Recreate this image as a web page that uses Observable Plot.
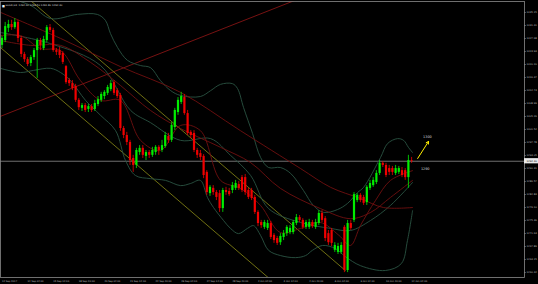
<!DOCTYPE html>
<html><head><meta charset="utf-8">
<script src="https://cdn.jsdelivr.net/npm/d3@7"></script>
<script src="https://cdn.jsdelivr.net/npm/@observablehq/plot@0.6"></script>
<style>
html,body{margin:0;padding:0;background:#000;}
#chart{width:538px;height:284px;}
svg{display:block;}
</style></head><body><div id="chart"></div>
<script>
// ---- OHLC (GOLD, H4) ----
const open=[1325.7,1327.1,1330.6,1331.7,1330.8,1332.3,1327.7,1323.1,1321.6,1320.5,
1322.2,1324.2,1327.1,1324.8,1327.1,1330.8,1330.0,1324.2,1324.2,1323.4,
1319.6,1315.6,1314.7,1313.9,1309.9,1307.6,1308.4,1307.3,1308.1,1307.3,
1308.7,1309.9,1311.0,1311.9,1313.0,1315.0,1312.7,1311.3,1301.8,1299.8,
1297.8,1293.2,1291.2,1294.9,1296.1,1293.8,1294.9,1294.1,1294.9,1296.4,
1295.5,1296.6,1299.5,1298.4,1302.1,1306.4,1309.3,1310.7,1306.1,1300.7,
1300.4,1295.5,1294.6,1293.8,1289.2,1283.1,1284.6,1283.4,1283.1,1278.8,
1284.0,1283.7,1284.0,1284.6,1285.7,1287.7,1287.7,1284.0,1284.0,1282.0,
1277.7,1274.8,1273.4,1273.1,1274.5,1271.1,1270.2,1269.0,1270.5,1271.6,
1271.9,1271.9,1274.5,1276.2,1275.4,1273.4,1273.4,1274.8,1273.4,1274.5,
1277.4,1275.9,1271.6,1272.5,1266.8,1266.2,1266.2,1273.4,1261.0,1274.5,
1275.4,1281.1,1282.6,1282.0,1280.5,1284.6,1285.4,1286.3,1288.9,1291.8,
1291.2,1290.3,1290.3,1288.9,1289.2,1289.7,1289.7,1287.7,1292.6];
const high=[1328.3,1332.3,1332.9,1332.9,1333.4,1332.9,1328.3,1323.7,1322.2,1322.8,
1324.8,1327.7,1327.7,1328.3,1331.4,1331.7,1330.6,1324.8,1325.1,1323.9,
1319.9,1316.2,1315.6,1314.5,1310.4,1309.0,1309.0,1308.7,1308.7,1309.9,
1311.0,1312.2,1312.7,1314.2,1315.6,1315.6,1313.3,1311.9,1302.4,1300.7,
1298.4,1294.1,1296.1,1296.9,1296.9,1295.5,1295.5,1296.4,1296.9,1296.9,
1298.4,1300.7,1300.4,1303.5,1307.6,1310.7,1312.2,1311.6,1307.0,1301.2,
1301.2,1296.1,1295.5,1294.3,1289.7,1285.4,1285.4,1284.0,1284.0,1284.6,
1284.9,1284.6,1286.3,1286.9,1286.6,1288.3,1288.6,1284.6,1284.6,1282.6,
1278.2,1275.4,1275.4,1275.4,1275.1,1271.6,1270.8,1271.6,1272.5,1273.9,
1273.9,1275.4,1277.1,1276.8,1275.9,1275.4,1275.7,1275.4,1275.7,1278.2,
1278.2,1276.5,1272.5,1273.1,1269.0,1268.8,1269.0,1273.9,1275.4,1275.4,
1283.4,1283.1,1283.1,1282.6,1285.4,1286.9,1287.7,1289.7,1292.6,1292.3,
1291.8,1291.2,1290.9,1291.2,1290.9,1290.6,1290.3,1294.1,1293.5];
const low=[1324.8,1326.5,1329.4,1330.0,1330.3,1326.5,1322.2,1320.8,1319.6,1319.6,
1321.4,1316.2,1324.2,1324.2,1326.5,1329.4,1323.7,1322.8,1321.9,1320.2,
1314.5,1313.9,1312.7,1309.3,1307.0,1306.7,1306.4,1306.4,1306.4,1306.7,
1308.1,1309.3,1310.1,1311.3,1312.4,1311.3,1310.4,1301.0,1298.9,1296.9,
1291.2,1289.2,1290.3,1294.1,1293.2,1292.6,1293.2,1293.5,1294.1,1294.1,
1294.9,1296.1,1297.5,1297.8,1301.2,1305.6,1308.7,1305.6,1299.8,1298.9,
1294.9,1293.2,1292.6,1287.4,1282.6,1282.3,1282.6,1281.1,1277.7,1277.7,
1282.6,1282.3,1283.1,1284.0,1284.0,1283.4,1282.6,1281.4,1281.1,1277.1,
1273.6,1273.1,1272.8,1272.5,1269.9,1268.8,1268.2,1268.2,1269.6,1270.8,
1271.3,1271.3,1273.9,1274.8,1272.8,1272.8,1272.8,1273.1,1272.8,1273.9,
1274.8,1269.3,1268.2,1267.9,1266.2,1265.6,1265.6,1260.4,1260.4,1272.5,
1274.8,1280.5,1280.5,1279.7,1279.7,1284.0,1284.9,1285.7,1288.3,1290.6,
1287.7,1288.3,1288.3,1288.3,1288.6,1287.7,1286.9,1284.6,1291.8];
const close=[1327.7,1331.1,1331.7,1330.8,1332.3,1327.7,1323.1,1321.6,1320.2,1322.2,
1324.2,1327.1,1325.7,1327.4,1330.8,1330.0,1324.2,1323.7,1322.8,1320.8,
1315.0,1314.7,1313.3,1309.9,1307.8,1308.4,1307.0,1308.1,1307.0,1309.0,
1310.1,1311.6,1312.2,1313.6,1314.7,1311.9,1311.0,1301.8,1299.8,1297.8,
1292.6,1291.2,1295.5,1296.1,1294.1,1294.9,1294.1,1295.5,1296.4,1295.5,
1296.9,1299.8,1298.4,1302.7,1307.0,1309.9,1311.0,1306.1,1300.4,1299.8,
1295.5,1294.1,1293.5,1288.3,1283.4,1284.9,1283.4,1282.0,1278.8,1284.0,
1283.4,1282.8,1285.4,1286.0,1284.6,1284.0,1283.4,1282.0,1281.7,1277.7,
1274.5,1273.9,1274.8,1274.5,1270.5,1269.6,1268.8,1270.8,1271.6,1273.4,
1273.1,1274.8,1276.2,1275.4,1273.4,1274.8,1274.8,1273.6,1274.8,1277.4,
1275.4,1270.2,1269.0,1268.8,1268.2,1267.9,1268.2,1261.0,1274.5,1273.1,
1282.8,1282.6,1281.1,1280.3,1284.9,1286.0,1286.9,1288.9,1291.8,1291.2,
1288.3,1289.2,1289.2,1290.3,1290.3,1288.3,1287.7,1292.6,1292.4];

// ---- indicator curves read at sample bars ----
const bbUpBar=[-0.5,8.9,15.2,23.6,29.8,32.3,33.9,36.1,39.2,43.3,46.4,49.5,52.7,55.8,62.0,65.2,68.3,72.0,73.6,75.5,78.3,80.8,83.3,87.0,90.2,94.2,97.3,100.5,104.8,108.0,111.1,113.0,118.3,120.5,123.6,125.5,127.0,128.3];
const bbUp=[1340.0,1337.2,1333.4,1334.6,1334.6,1332.9,1329.1,1325.1,1321.4,1319.9,1319.3,1315.6,1312.7,1311.3,1311.0,1312.7,1314.5,1314.7,1313.3,1307.8,1300.4,1293.5,1290.6,1290.6,1288.9,1284.0,1279.7,1277.7,1278.5,1280.3,1283.4,1284.9,1293.5,1297.5,1298.9,1298.4,1296.4,1294.9];
const bbLoBar=[-0.5,5.8,9.8,15.2,18.3,21.4,26.1,30.8,35.5,38.6,41.7,46.4,51.1,55.8,58.9,62.0,64.2,66.1,69.2,71.4,73.9,76.7,78.6,80.8,83.3,87.0,91.7,94.9,97.0,100.2,104.2,107.3,112.0,119.8,124.8,126.7,128.3];
const bbLo=[1319.1,1317.9,1318.5,1319.1,1317.9,1315.6,1309.9,1305.6,1301.2,1292.6,1288.3,1287.4,1286.9,1285.4,1286.0,1286.9,1282.0,1279.1,1275.4,1273.1,1271.6,1273.1,1273.9,1271.1,1266.8,1265.3,1264.7,1265.3,1266.8,1268.2,1267.3,1265.0,1262.4,1261.0,1263.0,1269.6,1278.2];
const bbMidBar=[-0.5,15.2,30.8,40.2,46.4,55.8,65.2,71.4,77.7,83.3,93.3,102.7,108.9,115.2,121.4,128.3];
const bbMid=[1329.4,1326.2,1319.9,1307.0,1303.5,1298.4,1298.9,1294.1,1288.3,1278.8,1274.8,1273.1,1272.5,1275.4,1279.7,1286.3];
const maSlowBar=[-0.5,18.3,37.0,55.8,74.5,93.3,102.7,112.0,119.2,128.3];
const maSlow=[1335.2,1327.7,1319.6,1312.2,1301.2,1290.3,1284.9,1281.7,1279.1,1279.1];
const maMidBar=[-0.5,8.9,18.3,27.7,37.0,46.4,55.8,68.3,77.7,87.0,99.5,108.9,115.2,121.4,128.3];
const maMid=[1327.1,1325.7,1325.7,1320.8,1314.2,1307.0,1301.8,1296.4,1292.0,1284.6,1278.8,1275.9,1277.7,1282.0,1286.9];
const maFastBar=[-0.5,5.8,12.0,18.3,24.5,30.8,37.0,43.3,49.5,55.8,62.0,68.3,74.5,80.8,87.0,93.3,99.5,105.3,108.9,112.0,116.7,121.4,128.3];
const maFast=[1328.5,1328.5,1324.8,1324.2,1315.6,1309.9,1309.9,1298.4,1295.5,1302.7,1301.2,1286.9,1284.6,1279.7,1271.9,1273.1,1274.8,1271.1,1268.2,1273.9,1281.1,1286.9,1289.7];

// ---- drawn trend lines (bar, price) ----
const trendUp=[[-0.5,1305.3],[100,1341.7]];
const chanUpper=[[8.9,1338.6],[107.3,1261.0]];
const chanLower=[[-0.5,1325.1],[83.9,1258.4]];

// ---- annotations ----
const arrowFrom=[129.9,1293.2], arrowTo=[133.3,1298.1];
const notes=[{bar:131.6,price:1299.3,text:"1300"},{bar:130.9,price:1290.3,text:"1290"}];

// ---- axes ----
const yTickLabels=["1335.15","1331.41","1327.68","1323.94","1320.20","1316.47","1312.73","1308.99","1305.26","1301.52","1297.78","1294.05","1290.31","1286.57","1282.84","1279.10","1275.36","1271.63","1267.89","1264.15","1260.42"];
const xTickLabels=["12 Sep 2017","14 Sep 04:00","15 Sep 12:00","18 Sep 20:00","20 Sep 04:00","21 Sep 12:00","22 Sep 20:00","26 Sep 04:00","27 Sep 12:00","28 Sep 20:00","2 Oct 04:00","3 Oct 12:00","4 Oct 20:00","6 Oct 04:00","9 Oct 12:00","10 Oct 20:00","12 Oct 04:00"];
const title="GOLD,H4  1292.60 1293.50 1291.80 1292.40";

const X0=-0.469, X1=163.28, Y0=1258.99, Y1=1338.31;
const bars=close.map((c,i)=>({i,o:open[i],h:high[i],l:low[i],c,up:c>=open[i]}));
const up=bars.filter(d=>d.up), dn=bars.filter(d=>!d.up);
const pts=(bs,vs)=>bs.map((b,k)=>({b,v:vs[k]}));
const seg=a=>a.map(([b,v])=>({b,v}));
const last=close[close.length-1];
const xt=xTickLabels.map((t,k)=>({b:k*8,t}));
const yt=yTickLabels.map(t=>({v:+t,t}));
const GREEN="#00ee00", RED="#f00000", BB="#2a5443", MA="#701010", CHAN="#7c7c14";

const chart=Plot.plot({
  width:538,height:284,marginTop:1,marginRight:14,marginBottom:7,marginLeft:0,
  style:{background:"#000",color:"#ccc",fontFamily:"DejaVu Sans"},
  x:{type:"linear",domain:[X0,X1],axis:null},
  y:{type:"linear",domain:[Y0,Y1],axis:null},
  marks:[
    Plot.ruleY([last],{stroke:"#8a8a8a",strokeWidth:0.8}),
    Plot.line(seg(trendUp),{x:"b",y:"v",stroke:"#851414",strokeWidth:0.9,clip:true}),
    Plot.line(seg(chanUpper),{x:"b",y:"v",stroke:CHAN,strokeWidth:0.9,clip:true}),
    Plot.line(seg(chanLower),{x:"b",y:"v",stroke:CHAN,strokeWidth:0.9,clip:true}),
    Plot.line(pts(bbUpBar,bbUp),{x:"b",y:"v",stroke:BB,strokeWidth:0.9,curve:"catmull-rom",clip:true}),
    Plot.line(pts(bbLoBar,bbLo),{x:"b",y:"v",stroke:BB,strokeWidth:0.9,curve:"catmull-rom",clip:true}),
    Plot.line(pts(bbMidBar,bbMid),{x:"b",y:"v",stroke:BB,strokeWidth:0.9,curve:"catmull-rom",clip:true}),
    Plot.line(pts(maSlowBar,maSlow),{x:"b",y:"v",stroke:MA,strokeWidth:0.9,curve:"catmull-rom",clip:true}),
    Plot.line(pts(maMidBar,maMid),{x:"b",y:"v",stroke:MA,strokeWidth:0.9,curve:"catmull-rom",clip:true}),
    Plot.line(pts(maFastBar,maFast),{x:"b",y:"v",stroke:MA,strokeWidth:0.9,curve:"catmull-rom",clip:true}),
    Plot.ruleX(up,{x:"i",y1:"l",y2:"h",stroke:GREEN,strokeWidth:0.8}),
    Plot.ruleX(dn,{x:"i",y1:"l",y2:"h",stroke:RED,strokeWidth:0.8}),
    Plot.ruleX(up,{x:"i",y1:"o",y2:"c",stroke:GREEN,strokeWidth:2.2}),
    Plot.ruleX(dn,{x:"i",y1:"o",y2:"c",stroke:RED,strokeWidth:2.2}),
    Plot.arrow([{x1:arrowFrom[0],y1:arrowFrom[1],x2:arrowTo[0],y2:arrowTo[1]}],{x1:"x1",y1:"y1",x2:"x2",y2:"y2",stroke:"#ffee00",strokeWidth:1,headLength:4}),
    Plot.text(notes,{x:"bar",y:"price",text:"text",fill:"#ddd",fontSize:3.4,textAnchor:"start"}),
    Plot.frame({stroke:"#8a8a8a",strokeWidth:0.8}),
    Plot.ruleY(yt,{y:"v",x1:X1,x2:X1+0.6,stroke:"#8a8a8a",strokeWidth:0.6}),
    Plot.text(yt,{y:"v",x:X1,text:"t",dx:2,textAnchor:"start",fill:"#bbb",fontSize:2.5}),
    Plot.rect([{v:last}],{x1:X1,x2:X1+4.5,y1:d=>d.v-0.75,y2:d=>d.v+0.75,fill:"#e8e8e8"}),
    Plot.text([{v:last}],{y:"v",x:X1,text:d=>d.v.toFixed(2),dx:2,textAnchor:"start",fill:"#000",fontSize:2.5}),
    Plot.text(xt,{x:"b",y:Y0,text:"t",dy:4,textAnchor:"start",fill:"#bbb",fontSize:2.4}),
    Plot.text([title],{frameAnchor:"top-left",dx:5,dy:3,text:d=>d,fill:"#ddd",fontSize:2.5,textAnchor:"start"}),
    Plot.text(["\u25A0"],{frameAnchor:"top-left",dx:1.5,dy:3,text:d=>d,fill:"#eee",fontSize:3})
  ]
});
document.getElementById("chart").appendChild(chart);
</script></body></html>
